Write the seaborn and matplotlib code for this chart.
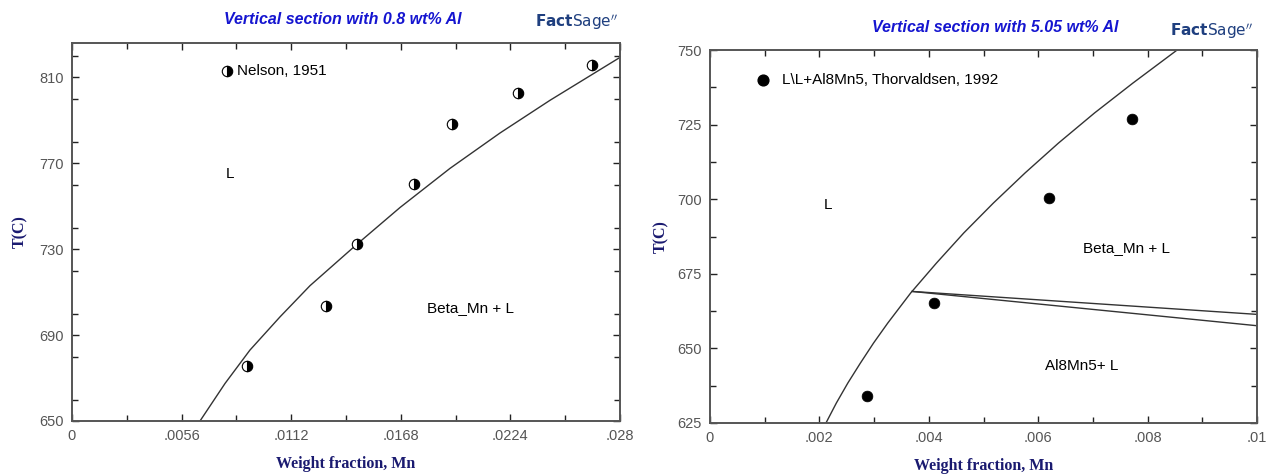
import matplotlib
matplotlib.use("Agg")
import matplotlib.pyplot as plt
import seaborn as sns
import pandas as pd
from matplotlib.ticker import MultipleLocator, FuncFormatter

# ---------------- data: left panel (0.8 wt% Al) ----------------
left_curve_x = [0.00654, 0.00782, 0.00909, 0.01063, 0.01216, 0.01456, 0.01676,
                0.01931, 0.02187, 0.02442, 0.02800]
left_curve_y = [650.0, 667.5, 683.0, 698.5, 713.0, 732.3, 749.4,
                767.6, 784.1, 799.3, 819.3]
nelson_x = [0.00894, 0.01298, 0.01456, 0.01747, 0.01942, 0.02279, 0.02657]
nelson_y = [675.6, 703.5, 732.3, 760.2, 788.1, 802.6, 815.6]
left_xticks = [0, 0.0056, 0.0112, 0.0168, 0.0224, 0.028]
left_yticks = [650, 690, 730, 770, 810]

# ---------------- data: right panel (5.05 wt% Al) ----------------
right_curve_x = [0.00212, 0.00231, 0.00252, 0.00275, 0.00299, 0.00325, 0.00367, 0.00414,
                 0.00464, 0.00518, 0.00576, 0.00637, 0.00703, 0.00773, 0.00854]
right_curve_y = [625.0, 631.7, 638.4, 645.1, 651.8, 658.5, 668.6, 678.6,
                 688.7, 698.7, 708.8, 718.8, 728.9, 738.9, 750.0]
band_upper_x = [0.00369, 0.0100]
band_upper_y = [669.1, 661.4]
band_lower_x = [0.00369, 0.0100]
band_lower_y = [669.1, 657.6]
thor_x = [0.00287, 0.00410, 0.00620, 0.00771]
thor_y = [634.0, 665.3, 700.5, 726.8]
right_xticks = [0, 0.002, 0.004, 0.006, 0.008, 0.01]
right_xticklabels = ['0', '.002', '.004', '.006', '.008', '.01']
right_yticks = [625, 650, 675, 700, 725, 750]

sns.set_style("ticks")
plt.rcParams['font.family'] = ['Liberation Sans', 'DejaVu Sans']

fig = plt.figure(figsize=(12.76, 4.75), dpi=100)
W, H = 1276, 475
def ax_rect(x0, x1, y0, y1):
    return [x0 / W, 1 - y1 / H, (x1 - x0) / W, (y1 - y0) / H]

axL = fig.add_axes(ax_rect(72, 620, 43, 421))
axR = fig.add_axes(ax_rect(710, 1257, 50, 423))

line_col = '#333333'
tick_col = '#555555'
navy = '#1a1a70'
title_col = '#1515d0'

def fmt(v, pos):
    if v == 0:
        return '0'
    s = ('%.4f' % v).rstrip('0')
    return s[1:] if s.startswith('0') else s

def style_axes(ax, xticks, yticks, xlim, ylim, xminor, yminor, ylabelpad):
    ax.set_xlim(*xlim)
    ax.set_ylim(*ylim)
    ax.set_xticks(xticks)
    ax.set_yticks(yticks)
    ax.xaxis.set_minor_locator(MultipleLocator(xminor))
    ax.yaxis.set_minor_locator(MultipleLocator(yminor))
    ax.xaxis.set_major_formatter(FuncFormatter(fmt))
    ax.tick_params(which='both', direction='in', top=True, right=True,
                   color='#222222', width=1.0, labelsize=10.5, labelcolor=tick_col)
    ax.tick_params(which='major', length=5, pad=6)
    ax.tick_params(which='minor', length=4)
    for sp in ax.spines.values():
        sp.set_visible(True)
        sp.set_color('#555555')
        sp.set_linewidth(1.4)
    ax.set_xlabel('Weight fraction, Mn', family=['Liberation Serif', 'DejaVu Serif'],
                  fontweight='bold', fontsize=11.5, color=navy, labelpad=9)
    ax.set_ylabel('T(C)', family=['Liberation Serif', 'DejaVu Serif'],
                  fontweight='bold', fontsize=11.5, color=navy, labelpad=ylabelpad)

# ---------------- left panel ----------------
dfL = pd.DataFrame({'x': left_curve_x, 'y': left_curve_y})
sns.lineplot(data=dfL, x='x', y='y', ax=axL, sort=False, estimator=None,
             color=line_col, linewidth=1.0)
dfN = pd.DataFrame({'x': nelson_x, 'y': nelson_y})
sns.lineplot(data=dfN, x='x', y='y', ax=axL, sort=False, estimator=None,
             linestyle='', marker='o', markersize=7.5, fillstyle='right',
             markerfacecolor='black', markerfacecoloralt='white',
             markeredgecolor='black', markeredgewidth=0.8)
axL.plot([0.00792], [812.8], linestyle='', marker='o', markersize=7.5, fillstyle='right',
         markerfacecolor='black', markerfacecoloralt='white',
         markeredgecolor='black', markeredgewidth=0.8)
axL.text(0.00845, 812.8, 'Nelson, 1951', fontsize=11, va='center', ha='left', color='black')
axL.text(0.00807, 765.0, 'L', fontsize=11, va='center', ha='center', color='black')
axL.text(0.02034, 702.6, 'Beta_Mn + L', fontsize=11, va='center', ha='center', color='black')
style_axes(axL, left_xticks, left_yticks, (0, 0.028), (650, 826), 0.0028, 20, 8)

# ---------------- right panel ----------------
dfR = pd.DataFrame({'x': right_curve_x, 'y': right_curve_y})
sns.lineplot(data=dfR, x='x', y='y', ax=axR, sort=False, estimator=None,
             color=line_col, linewidth=1.0)
sns.lineplot(x=band_upper_x, y=band_upper_y, ax=axR, sort=False, estimator=None,
             color=line_col, linewidth=1.0)
sns.lineplot(x=band_lower_x, y=band_lower_y, ax=axR, sort=False, estimator=None,
             color=line_col, linewidth=1.0)
dfT = pd.DataFrame({'x': thor_x, 'y': thor_y})
sns.scatterplot(data=dfT, x='x', y='y', ax=axR, color='black', s=60, edgecolor='black',
                linewidth=0.5, zorder=3)
axR.scatter([0.00097], [740.0], color='black', s=60, zorder=3)
axR.text(0.00132, 740.0, 'L\\L+Al8Mn5, Thorvaldsen, 1992', fontsize=11, va='center',
         ha='left', color='black')
axR.text(0.00216, 698.0, 'L', fontsize=11, va='center', ha='center', color='black')
axR.text(0.00762, 683.6, 'Beta_Mn + L', fontsize=11, va='center', ha='center', color='black')
axR.text(0.00680, 644.1, 'Al8Mn5+ L', fontsize=11, va='center', ha='center', color='black')
style_axes(axR, right_xticks, right_yticks, (0, 0.01), (625, 750), 0.001, 12.5, 6)
axR.set_xticklabels(right_xticklabels)

# ---------------- titles and logos ----------------
fig.text(343 / W, 1 - 20 / H, 'Vertical section with 0.8 wt% Al', ha='center', va='center',
         fontsize=11.5, fontweight='bold', fontstyle='italic', color=title_col)
fig.text(995 / W, 1 - 28 / H, 'Vertical section with 5.05 wt% Al', ha='center', va='center',
         fontsize=11.5, fontweight='bold', fontstyle='italic', color=title_col)

logo_col = '#1f3f7f'
for xl, yl in [(577, 22), (1212, 31)]:
    fig.text(xl / W, 1 - yl / H, r'$\mathbf{Fact}\mathrm{Sage}^{\prime\prime}$', ha='center',
             va='center', fontsize=11, color=logo_col)

fig.savefig('out.png', dpi=100)
